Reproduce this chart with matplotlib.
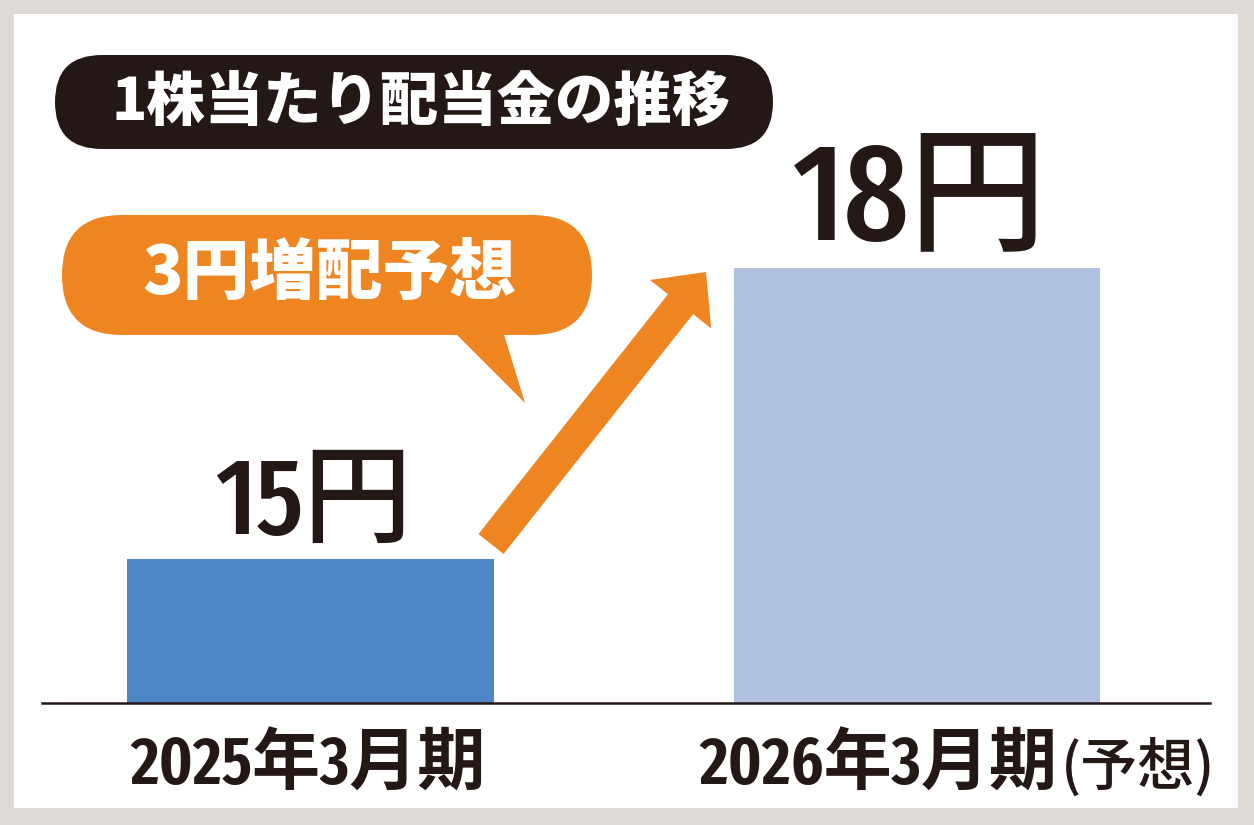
import matplotlib
matplotlib.use('Agg')
import matplotlib.pyplot as plt
from matplotlib.patches import FancyBboxPatch, Polygon, FancyArrow, Rectangle

# data
periods = ['2025年3月期', '2026年3月期']
period_notes = ['', '(予想)']
dividends = [15, 18]
unit = '円'
title = '1株当たり配当金の推移'
callout = '3円増配予想'

bar_colors = ['#4f87c5', '#afc0e1']
ink = '#231815'
orange = '#ee8520'

# condensed latin digits, CJK from Noto
plt.rcParams['font.family'] = ['Fira Sans Extra Condensed', 'Noto Sans CJK JP']

W, H = 1254, 825
fig = plt.figure(figsize=(W / 100, H / 100), dpi=100)
fig.patch.set_facecolor('#dedad5')
fig.add_artist(Rectangle((14 / W, 17 / H), 1224 / W, 794 / H, transform=fig.transFigure,
                         facecolor='white', edgecolor='none', zorder=-5))

# bar axes (baseline is not zero)
ax = fig.add_axes([42 / W, 122 / H, 1168 / W, 663 / H])
ax.set_facecolor('none')
xs = list(range(len(periods)))
ax.bar(xs, dividends, width=0.605, color=bar_colors, zorder=1)
ax.set_xlim(-0.4427, 1.4831)
ax.set_ylim(13.5155, 20.351)
for s in ['top', 'left', 'right']:
    ax.spines[s].set_visible(False)
ax.spines['bottom'].set_color(ink)
ax.spines['bottom'].set_linewidth(1.8)
ax.spines['bottom'].set_zorder(3)
ax.set_xticks([])
ax.set_yticks([])

# value labels
sizes = [78, 99]
lifts = [18, 21]
for i, v in enumerate(dividends):
    ax.annotate(f'{v}{unit}', xy=(i, v), xytext=(2, lifts[i]), textcoords='offset points',
                ha='center', va='baseline', fontsize=sizes[i], fontweight=500, color=ink)

# category labels
shifts = [-2, -28]
for i, p in enumerate(periods):
    t = ax.annotate(p, xy=(i, 0), xycoords=('data', 'axes fraction'), xytext=(shifts[i], -59),
                    textcoords='offset points', ha='center', va='baseline',
                    fontsize=49, fontweight=600, color=ink)
    if period_notes[i]:
        ax.annotate(period_notes[i], xy=(1, 0), xycoords=(t, 'axes fraction'), xytext=(3, -59),
                    textcoords='offset points', ha='left', va='baseline',
                    fontsize=41, fontweight=500, color=ink, family='Noto Sans CJK JP')

# overlay in pixel units for the title pill, callout and arrow
ov = fig.add_axes([0, 0, 1, 1], zorder=2)
ov.set_xlim(0, W)
ov.set_ylim(H, 0)
ov.axis('off')

ov.add_patch(FancyBboxPatch((55, 55), 718, 94, boxstyle='round,pad=0,rounding_size=47',
                            facecolor=ink, edgecolor='none'))
ov.text(421, 102, title, ha='center', va='center', color='white', fontsize=42,
        fontweight=900, family='Noto Sans CJK JP')

ov.add_patch(FancyBboxPatch((62, 215), 530, 120, boxstyle='round,pad=0,rounding_size=60',
                            facecolor=orange, edgecolor='none'))
ov.add_patch(Polygon([(450, 328), (502, 328), (525, 403)], closed=True,
                     facecolor=orange, edgecolor='none'))
ov.text(329, 274, callout, ha='center', va='center', color='white', fontsize=48,
        fontweight=900, family='Noto Sans CJK JP')

ov.add_patch(FancyArrow(491, 544, 215, -272, width=32, head_width=78, head_length=41,
                        length_includes_head=True, facecolor=orange, edgecolor='none'))

fig.savefig('out.png', dpi=100, facecolor=fig.get_facecolor())
